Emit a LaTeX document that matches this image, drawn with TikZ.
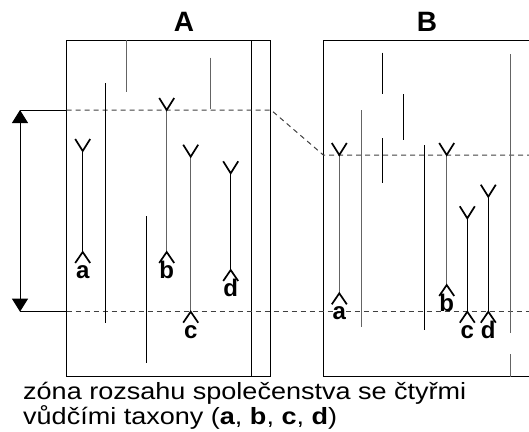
\documentclass[tikz,border=0pt]{standalone}
\usepackage{fontspec}
\setmainfont{Liberation Sans}
\newfontfamily\capfont[FakeStretch=1.15]{Liberation Sans}
\usetikzlibrary{arrows.meta}
\definecolor{linegray}{RGB}{100,100,100}

% one taxon range: name, x, top, bottom, colour, label
\newcommand{\taxon}[6]{%
  \coordinate (#1top) at (#2,#3);
  \coordinate (#1bot) at (#2,#4);
  \draw[#5] (#1top) -- (#1bot);
  \draw[marker] (#2-7.5,#3-12) -- (#1top) -- (#2+7.5,#3-12);
  \draw[marker] (#2-7.5,#4+11) -- (#1bot) -- (#2+7.5,#4+11);
  \node[taxlabel] (#1lab) at (#2,#4+26.5) {#6};
}

\begin{document}
\begin{tikzpicture}[x=1pt, y=-1pt, line width=1pt,
      marker/.style = {line width=1.7pt, line cap=butt, line join=miter},
      taxlabel/.style = {anchor=base, inner sep=0pt, font=\fontsize{24}{24}\selectfont\bfseries},
      title/.style = {anchor=base, inner sep=0pt, font=\fontsize{28}{28}\selectfont\bfseries},
      zone/.style = {black!75, dash pattern=on 5pt off 4pt},
      blackline/.style = {black},
      grayline/.style = {linegray}]
    \useasboundingbox (0,0) rectangle (529,431);

    % sections
    \draw (66.7,40) rectangle (270.7,376.7);
    \draw (251.7,40) -- (251.7,376.7);
    \draw (529,40) -- (323.3,40) -- (323.3,376.7) -- (529,376.7);
    \node[title] (titA) at (184,31.5) {A};
    \node[title] (titB) at (427,31.5) {B};

    % zone limits
    \coordinate (zt) at (20,110);
    \coordinate (zb) at (20,311.7);
    \draw (zt) -- (66.7,110);
    \draw (zb) -- (66.7,311.7);
    \draw[zone] (66.7,110) -- (271,110) -- (323.3,155) -- (529,155);
    \draw[zone] (66.7,311.7) -- (529,311.7);
    \draw[{Triangle[width=16pt,length=13pt]}-{Triangle[width=16pt,length=13pt]}] (zt) -- (zb);

    % other taxa
    \foreach \x/\ya/\yb/\c in {126.7/40/91.7/grayline, 210.7/57.7/109/grayline,
        105/83.3/323.3/blackline, 146.7/216/362.7/blackline,
        382.7/52.7/94.3/blackline, 382.7/138.3/182.7/blackline, 403.3/94.3/140/blackline,
        361/110/326.7/grayline, 424.3/145/330/blackline,
        510/54/333.3/grayline, 510/354/376.7/grayline}
      \draw[\c] (\x,\ya) -- (\x,\yb);

    % leading taxa
    \taxon{Aa}{82.7}{151}{252}{blackline}{a}
    \taxon{Ab}{166.7}{110}{252}{grayline}{b}
    \taxon{Ac}{190.7}{156.7}{311.7}{grayline}{c}
    \taxon{Ad}{230.7}{173.3}{270}{blackline}{d}
    \taxon{Ba}{339.3}{155}{293.3}{grayline}{a}
    \taxon{Bb}{446.7}{155}{285}{grayline}{b}
    \taxon{Bc}{467.3}{218.3}{311.7}{blackline}{c}
    \taxon{Bd}{488.3}{196.7}{311.7}{blackline}{d}

    \node[anchor=base west, inner sep=0pt, align=left, font=\capfont\fontsize{23.5}{22}\selectfont] (caption) at (22.7,424.3)
      {zóna rozsahu společenstva se čtyřmi\\vůdčími taxony (\textbf{a}, \textbf{b}, \textbf{c}, \textbf{d})};
\end{tikzpicture}
\end{document}
